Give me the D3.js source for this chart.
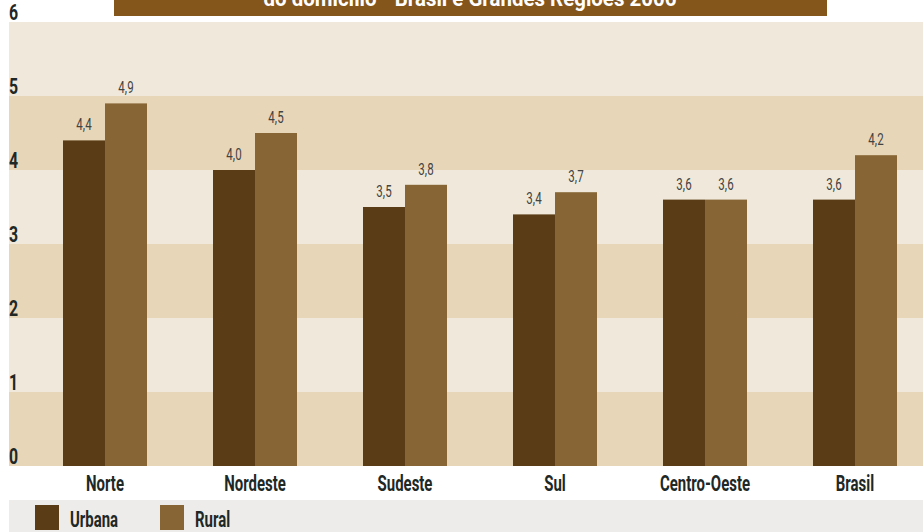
<!DOCTYPE html>
<html>
<head>
<meta charset="utf-8">
<script src="https://cdn.jsdelivr.net/npm/d3@7"></script>
<style>
  html, body { margin: 0; padding: 0; background: #ffffff; }
  svg { display: block; }
  text { font-family: Roboto, "Noto Sans", "DejaVu Sans", sans-serif; }
</style>
</head>
<body>
<svg id="chart" width="923" height="532"></svg>
<script>
// Média de moradores por domicílio, por situação do domicílio
const regions = ["Norte", "Nordeste", "Sudeste", "Sul", "Centro-Oeste", "Brasil"];
const urbana = [4.4, 4.0, 3.5, 3.4, 3.6, 3.6];
const rural = [4.9, 4.5, 3.8, 3.7, 3.6, 4.2];
const seriesNames = ["Urbana", "Rural"];
const yTicks = [0, 1, 2, 3, 4, 5, 6];
const titleText = "do domicílio - Brasil e Grandes Regiões 2006";

const colors = { Urbana: "#5a3c17", Rural: "#876535" };
const plot = { left: 9, right: 923, top: 22, bottom: 466 };

const svg = d3.select("#chart");

const y = d3.scaleLinear().domain([0, 6]).range([plot.bottom, plot.top]);
const x0 = d3.scaleBand().domain(regions).range([30, 930]).paddingInner(0.44).paddingOuter(0.22);
const x1 = d3.scaleBand().domain(seriesNames).range([0, x0.bandwidth()]);

// Draws text squeezed horizontally to imitate a condensed typeface.
function condensedText(parent, data, opts) {
  const g = parent.append("g");
  const t = g.selectAll("text")
    .data(data)
    .join("text")
    .attr("transform", (d, i) => `translate(${opts.x(d, i)},${opts.y(d, i)}) scale(${opts.sx},1)`)
    .attr("text-anchor", opts.anchor || "start")
    .attr("font-size", opts.size)
    .attr("font-weight", opts.weight || "normal")
    .attr("fill", opts.fill)
    .text(opts.text);
  return t;
}

// alternating horizontal bands
const bandColors = ["#e8d6b9", "#f0e9db"];
svg.append("g").selectAll("rect")
  .data(d3.range(6))
  .join("rect")
  .attr("x", plot.left)
  .attr("width", plot.right - plot.left)
  .attr("y", d => y(d + 1))
  .attr("height", d => y(d) - y(d + 1))
  .attr("fill", d => bandColors[d % 2]);

// title banner (its upper part runs off the top edge)
svg.append("rect")
  .attr("x", 114).attr("y", 0).attr("width", 713).attr("height", 16)
  .attr("fill", "#84561c");
condensedText(svg, [titleText], {
  x: () => 470, y: () => 6, sx: 0.93, anchor: "middle",
  size: 22, weight: "bold", fill: "#ffffff", text: d => d
});

// y axis labels sit just above their band edge
condensedText(svg, yTicks, {
  x: () => 9, y: d => y(d) - 2, sx: 0.72,
  size: 22, weight: "bold", fill: "#1e2826", text: d => d
});

// bars
const rows = regions.map((r, i) => ({ region: r, values: [
  { key: "Urbana", value: urbana[i] },
  { key: "Rural", value: rural[i] }
]}));

const groups = svg.append("g").selectAll("g")
  .data(rows)
  .join("g")
  .attr("transform", d => `translate(${x0(d.region)},0)`);

groups.selectAll("rect")
  .data(d => d.values)
  .join("rect")
  .attr("x", d => x1(d.key))
  .attr("width", x1.bandwidth())
  .attr("y", d => y(d.value))
  .attr("height", d => y(0) - y(d.value))
  .attr("fill", d => colors[d.key]);

groups.each(function (row) {
  condensedText(d3.select(this), row.values, {
    x: d => x1(d.key) + x1.bandwidth() / 2, y: d => y(d.value) - 10, sx: 0.68,
    anchor: "middle", size: 17, fill: "#434340",
    text: d => d.value.toFixed(1).replace(".", ",")
  });
});

// category labels
condensedText(svg, regions, {
  x: d => x0(d) + x0.bandwidth() / 2, y: () => 491, sx: 0.68,
  anchor: "middle", size: 22, weight: "bold", fill: "#1e2826", text: d => d
});

// legend strip
svg.append("rect")
  .attr("x", plot.left).attr("y", 500)
  .attr("width", plot.right - plot.left).attr("height", 32)
  .attr("fill", "#eeecea");

const legend = svg.append("g").selectAll("g")
  .data(seriesNames)
  .join("g")
  .attr("transform", (d, i) => `translate(${35 + i * 125},505)`);
legend.append("rect")
  .attr("width", 24).attr("height", 25)
  .attr("fill", d => colors[d]);
legend.each(function (name) {
  condensedText(d3.select(this), [name], {
    x: () => 35, y: () => 22, sx: 0.68,
    size: 22, weight: "bold", fill: "#1e2826", text: d => d
  });
});
</script>
</body>
</html>
